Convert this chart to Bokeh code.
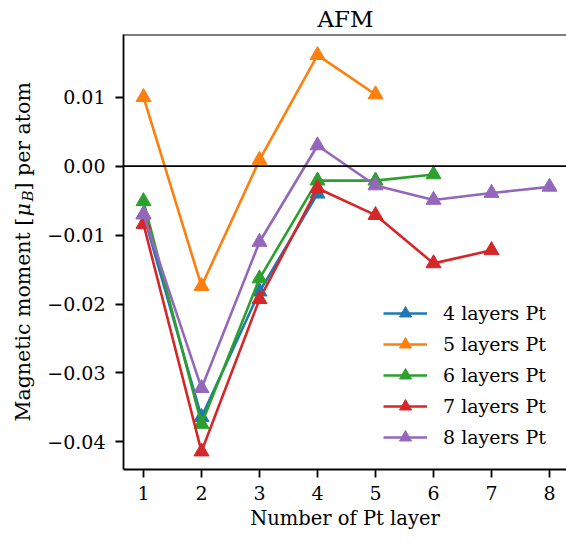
import math
from bokeh.plotting import figure
from bokeh.layouts import row, column
from bokeh.models import Span, Label, Legend, LegendItem, FixedTicker, Range1d
from bokeh.embed import file_html
from bokeh.resources import INLINE

# ---- data ----
layers = [1, 2, 3, 4, 5, 6, 7, 8]
series_names = ["4 layers Pt", "5 layers Pt", "6 layers Pt", "7 layers Pt", "8 layers Pt"]
pt4 = [-0.007, -0.0364, -0.0182, -0.0040]
pt5 = [0.0100, -0.0174, 0.0009, 0.0161, 0.0104]
pt6 = [-0.0051, -0.0374, -0.0163, -0.0021, -0.0021, -0.0012]
pt7 = [-0.0084, -0.0414, -0.0193, -0.0032, -0.0071, -0.0141, -0.0122]
pt8 = [-0.0070, -0.0322, -0.0110, 0.0030, -0.0028, -0.0049, -0.0039, -0.0030]
yticks = [-0.04, -0.03, -0.02, -0.01, 0.0, 0.01]
ytick_labels = ["\u22120.04", "\u22120.03", "\u22120.02", "\u22120.01", "0.00", "0.01"]
colors = ["#1f77b4", "#ff7f0e", "#2ca02c", "#d62728", "#9467bd"]
title_text = "AFM"

FONT = "DejaVu Serif"
Y0, Y1 = -0.0440, 0.0191
X0, X1 = 0.655, 8.293
W, H = 566, 543
LW = 40   # width of the strip holding the y-axis title
TH = 33   # height of the strip holding the plot title
FT, FB = 34, 469  # frame top / bottom in page pixels

p = figure(width=W - LW, height=H - TH, x_range=Range1d(X0, X1), y_range=Range1d(Y0, Y1),
           output_backend="svg", toolbar_location=None,
           min_border_left=123 - LW, min_border_right=0, min_border_top=FT - TH,
           min_border_bottom=H - FB)
p.grid.visible = False
p.outline_line_color = None
p.background_fill_color = "white"

for ax in (p.xaxis[0], p.yaxis[0]):
    ax.axis_line_width = 1.8
    ax.axis_line_color = "black"
    ax.major_tick_line_width = 1.8
    ax.major_tick_line_color = "black"
    ax.major_tick_out = 8
    ax.major_tick_in = 0
    ax.minor_tick_out = 0
    ax.minor_tick_in = 0
    ax.major_label_text_font = FONT
    ax.major_label_text_font_size = "19px"
    ax.major_label_text_color = "black"
p.xaxis.major_label_standoff = 8
p.yaxis.major_label_standoff = 10

p.xaxis.ticker = FixedTicker(ticks=layers)
p.yaxis.ticker = FixedTicker(ticks=yticks)
p.yaxis.major_label_overrides = {t: l for t, l in zip(yticks, ytick_labels)}
p.xaxis.axis_label = "Number of Pt layer"
p.xaxis.axis_label_text_font = FONT
p.xaxis.axis_label_text_font_size = "19.5px"
p.xaxis.axis_label_text_font_style = "normal"
p.xaxis.axis_label_text_color = "black"
p.xaxis.axis_label_standoff = 4

# top spine / zero line
p.add_layout(Span(location=Y1, dimension="width", line_color="black", line_width=1.8))
p.add_layout(Span(location=0, dimension="width", line_color="black", line_width=1.8))

items = []
for name, ys, c in zip(series_names, [pt4, pt5, pt6, pt7, pt8], colors):
    xs = layers[:len(ys)]
    lr = p.line(xs, ys, line_color=c, line_width=2.6)
    sr = p.scatter(xs, ys, marker="triangle", size=15, fill_color=c, line_color=c)
    items.append(LegendItem(label=name, renderers=[lr, sr]))

legend = Legend(items=items, location=(260, 17), border_line_color=None,
                background_fill_alpha=0, padding=0, margin=0, spacing=1,
                glyph_width=44, glyph_height=30, label_height=20, label_standoff=16,
                label_text_font=FONT, label_text_font_size="19px", label_text_color="black")
p.add_layout(legend)

def strip(width, height, xr, yr, **kw):
    f = figure(width=width, height=height, x_range=xr, y_range=yr,
               output_backend="svg", toolbar_location=None,
               x_axis_location=None, y_axis_location=None, **kw)
    f.grid.visible = False
    f.outline_line_color = None
    return f

# strip on the left carrying the y-axis title (with subscript B);
# its frame is aligned with the main frame, so y maps to page pixels FT..FB
ylab = strip(LW, H - TH, Range1d(0, LW), Range1d(FB, FT),
             min_border_left=0, min_border_right=0, min_border_top=FT - TH,
             min_border_bottom=H - FB)
ylab_parts = [("Magnetic moment [", 421, "normal", "20.5px", 0),
              ("\u03bc", 216, "italic", "20.5px", 0),
              ("B", 201, "italic", "15px", 5),
              ("] per atom", 190, "normal", "20.5px", 0)]
for txt, ystart, style, size, shift in ylab_parts:
    ylab.add_layout(Label(x=22 + shift, y=ystart, text=txt, angle=math.pi / 2,
                          text_align="left", text_baseline="middle", text_font=FONT,
                          text_font_size=size, text_font_style=style, text_color="black"))

# strip on top carrying the plot title (page pixels)
ttl = strip(W, TH, Range1d(0, W), Range1d(TH, 0),
            min_border_left=0, min_border_right=0, min_border_top=0, min_border_bottom=0)
ttl.title = None
ttl.add_layout(Label(x=345, y=18, text=title_text, text_align="center",
                     text_baseline="alphabetic", text_font=FONT, text_font_size="23px",
                     text_color="black"))

layout = column(ttl, row(ylab, p, spacing=0), spacing=0)
open("out.html", "w").write(file_html(layout, INLINE))
